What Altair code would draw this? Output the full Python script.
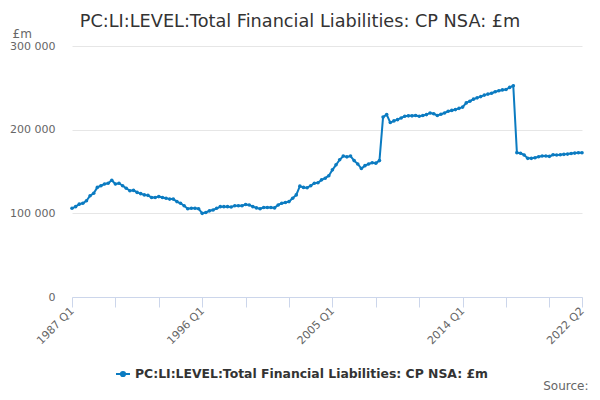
import altair as alt
import pandas as pd

series_name = "PC:LI:LEVEL:Total Financial Liabilities: CP NSA: £m"
title_text = "PC:LI:LEVEL:Total Financial Liabilities: CP NSA: £m"

# quarter categories 1987 Q1 .. 2022 Q2
quarters = [f"{y} Q{q}" for y in range(1987, 2023) for q in range(1, 5)][:142]

# values in £ thousand-millions, converted to £m below
values_k = [
    106, 108, 111, 112, 115, 121, 124, 131, 133, 135, 136, 139.5,
    135, 136, 133, 130, 127, 127.5, 125, 123.5, 122, 121.5, 119, 119,
    120, 119, 118, 117, 117, 114, 112, 109, 105.5, 106, 106, 105.5,
    100, 101, 103, 104, 106, 108, 108, 108, 107.5, 109, 109, 109,
    110.5, 110, 108, 106.5, 105.5, 107, 107, 107, 106.5, 110, 112, 113,
    114, 118, 122, 132.5, 131, 130.5, 133, 136, 136.5, 140, 142, 145,
    152, 158, 164, 168.5, 167.5, 168.5, 163, 159, 153.5, 157, 159, 160.5,
    160, 163, 215, 218, 208.5, 210.5, 212, 214, 216, 216.5, 216.5, 217,
    216, 217, 218, 220, 219, 217, 218.5, 220, 222, 223, 224, 225.5,
    227, 232, 234, 236.5, 238, 239.5, 241.3, 242.5, 243.5, 245.3, 246.5, 247.5,
    248, 250.5, 252.5, 172.5, 171.8, 169.8, 165.7, 165.7, 166.4, 167.6, 168.5, 168.5,
    168.1, 170, 169.7, 170, 170.5, 170.8, 171.5, 172, 172.4, 172.4,
]

tick_labels = ["1987 Q1", "1996 Q1", "2005 Q1", "2014 Q1", "2022 Q2"]
y_ticks = [0, 100000, 200000, 300000]

df = pd.DataFrame({
    "idx": list(range(len(quarters))),
    "quarter": quarters,
    "value": [v * 1000 for v in values_k],
    "series": series_name,
})

label_idx = [quarters.index(t) for t in tick_labels]
tick_values = list(range(0, len(quarters) - 1, 12)) + [len(quarters) - 1]

expr = "''"
for i, t in zip(reversed(label_idx), reversed(tick_labels)):
    expr = f"datum.value == {i} ? '{t}' : ({expr})"

blue = "#0b7bc1"

chart = alt.Chart(df).mark_line(
    strokeWidth=2,
    point=alt.OverlayMarkDef(size=13, filled=True, opacity=1),
).encode(
    x=alt.X(
        "idx:Q",
        scale=alt.Scale(domain=[0, len(quarters) - 1], nice=False, zero=False),
        axis=alt.Axis(
            values=tick_values,
            labelExpr=expr,
            labelAngle=-45,
            labelAlign="right",
            labelBaseline="middle",
            labelFontSize=11,
            labelColor="#666666",
            labelPadding=2,
            labelOverlap=False,
            labelFlush=False,
            tickSize=10,
            tickColor="#ccd6eb",
            domainColor="#ccd6eb",
            grid=False,
            title="Source:",
            titleFontSize=12,
            titleFontWeight="normal",
            titleColor="#666666",
            titleAnchor="end",
            titleAlign="right",
            titleX=516,
            titleY=92,
            titleBaseline="alphabetic",
        ),
    ),
    y=alt.Y(
        "value:Q",
        scale=alt.Scale(domain=[0, 300000], nice=False),
        axis=alt.Axis(
            values=y_ticks,
            labelExpr="replace(format(datum.value, ','), ',', ' ')",
            labelFontSize=11,
            labelColor="#666666",
            labelPadding=17,
            ticks=False,
            domain=False,
            gridColor="#e6e6e6",
            title="£m",
            titleAngle=0,
            titleAlign="left",
            titleBaseline="alphabetic",
            titleX=-60,
            titleY=-9,
            titleFontSize=12,
            titleFontWeight="normal",
            titleColor="#666666",
        ),
    ),
    color=alt.Color(
        "series:N",
        scale=alt.Scale(range=[blue]),
        legend=alt.Legend(
            title=None,
            orient="none",
            legendX=43,
            legendY=320,
            labelFontSize=12.4,
            labelFontWeight="bold",
            labelColor="#333333",
            labelLimit=600,
            symbolType="M-1,0L1,0M0.3,0A0.3,0.3 0 1,1 -0.3,0A0.3,0.3 0 1,1 0.3,0Z",
            symbolSize=196,
            symbolStrokeWidth=2,
            symbolFillColor=blue,
            symbolStrokeColor=blue,
        ),
    ),
).properties(
    width=510,
    height=251,
    autosize=alt.AutoSizeParams(type="none"),
    padding={"left": 64, "top": 38, "right": 10, "bottom": 95},
    title=alt.TitleParams(
        title_text,
        fontSize=17.7,
        fontWeight="normal",
        color="#333333",
        anchor="middle",
        dx=-27,
        offset=-4,
    ),
).configure(
    font="DejaVu Sans",
).configure_view(
    stroke=None,
)

chart.save("out.html", embed_options={"renderer": "svg", "actions": False})
